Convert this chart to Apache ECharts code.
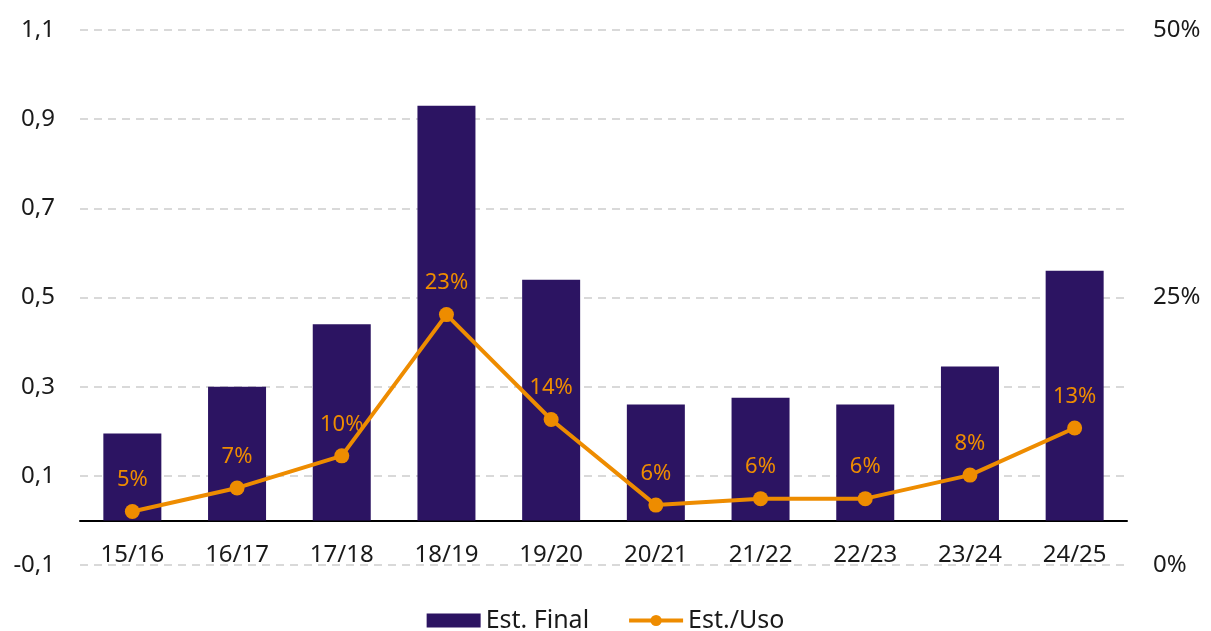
<!DOCTYPE html>
<html>
<head>
<meta charset="utf-8">
<script src="https://cdn.jsdelivr.net/npm/echarts@6/dist/echarts.min.js"></script>
<style>
html,body{margin:0;padding:0;background:#fff;}
#chart{width:1211px;height:631px;}
</style>
</head>
<body>
<div id="chart"></div>
<script>
const categories = ['15/16','16/17','17/18','18/19','19/20','20/21','21/22','22/23','23/24','24/25'];
const estFinal = [0.195, 0.30, 0.44, 0.93, 0.54, 0.26, 0.275, 0.26, 0.345, 0.56];
const estUso = [5.0, 7.2, 10.2, 23.4, 13.6, 5.6, 6.2, 6.2, 8.4, 12.8];
const leftTicks = [-0.1, 0.1, 0.3, 0.5, 0.7, 0.9, 1.1];
const rightTicks = [0, 25, 50];

const FONT = 'Noto Sans';
const chart = echarts.init(document.getElementById('chart'), null, {renderer: 'canvas'});
chart.setOption({
  animation: false,
  textStyle: {fontFamily: FONT},
  grid: {left: 80, right: 84, top: 30, bottom: 66, containLabel: false},
  legend: {
    top: 603, left: 'center',
    itemGap: 38, itemWidth: 54, itemHeight: 14,
    textStyle: {fontSize: 25, color: '#1a1a1a', fontFamily: FONT},
    data: [
      {name: 'Est. Final', icon: 'rect'},
      {name: 'Est./Uso', lineStyle: {width: 4}}
    ]
  },
  xAxis: {
    type: 'category',
    data: categories,
    axisLine: {onZero: true, lineStyle: {color: '#000', width: 2}},
    axisTick: {show: false},
    axisLabel: {fontSize: 24, color: '#1a1a1a', margin: -22, fontFamily: FONT}
  },
  yAxis: [
    {
      type: 'value', min: -0.1, max: 1.1, interval: 0.2,
      axisLine: {show: false}, axisTick: {show: false},
      axisLabel: {fontSize: 24, color: '#1a1a1a', margin: 25, fontFamily: FONT,
        formatter: v => v.toFixed(1).replace('.', ',')},
      splitLine: {show: true, lineStyle: {color: '#d9d9d9', width: 2, type: [8, 6]}}
    },
    {
      type: 'value', min: 0, max: 50, interval: 25,
      axisLine: {show: false}, axisTick: {show: false},
      axisLabel: {fontSize: 24, color: '#1a1a1a', margin: 26, fontFamily: FONT,
        formatter: v => v + '%'},
      splitLine: {show: false}
    }
  ],
  series: [
    {
      name: 'Est. Final', type: 'bar', data: estFinal, yAxisIndex: 0,
      barWidth: 58,
      itemStyle: {color: '#2c1462'}
    },
    {
      name: 'Est./Uso', type: 'line', data: estUso, yAxisIndex: 1,
      symbol: 'circle', symbolSize: 15,
      lineStyle: {color: '#ee8c00', width: 4},
      itemStyle: {color: '#ee8c00'},
      label: {show: true, position: 'top', distance: 13, fontSize: 22, color: '#ee8c00',
        fontFamily: FONT, formatter: p => Math.round(p.value) + '%'}
    }
  ]
});
</script>
</body>
</html>
